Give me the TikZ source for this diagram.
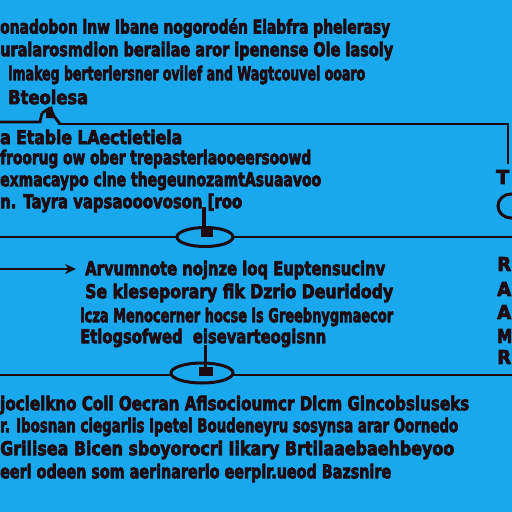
\documentclass[tikz,border=0pt]{standalone}
\usepackage{fontspec}
\setmainfont{DejaVu Sans}
\newfontfamily\heavy{DejaVu Sans Bold}[FakeBold=4]
\usepackage{graphicx}
\usetikzlibrary{arrows.meta}
\definecolor{bg}{RGB}{25,168,238}
\definecolor{ink}{RGB}{28,10,16}
\newcommand{\fitw}[2]{\resizebox{#1}{\height}{#2}}
\tikzset{
  txt/.style={anchor=west, inner sep=0pt, text=ink, font=\fontsize{19}{19}\heavy},
  wire/.style={draw=ink, line width=2.8pt},
  loopc/.style={draw=ink, line width=3pt}
}
\begin{document}
\begin{tikzpicture}[x=1pt,y=-1pt]
\fill[bg] (0,0) rectangle (512,512);
\useasboundingbox (0,0) rectangle (512,512);
% block 1
\node[txt] (a1) at (0,28) {\fitw{390pt}{onadobon lnw Ibane nogorodén Elabfra phelerasy}};
\node[txt] (a2) at (0,51) {\fitw{393pt}{uralarosmdion berailae aror ipenense Ole lasoly}};
\node[txt] (a3) at (8,75) {\fitw{357pt}{lmakeg berterlersner ovilef and Wagtcouvel ooaro}};
\node[txt] (a4) at (8,97) {\fitw{80pt}{Bteolesa}};
% top wire
\coordinate (t0) at (0,122);
\coordinate (t1) at (40,122);
\coordinate (t2) at (58,124);
\coordinate (t3) at (508,124);
\coordinate (t4) at (508,164);
\draw[wire] (t0) -- (t1) -- (42,113);
\draw[wire, line join=round] (42,113) -- (50,108) -- (54,116) -- (60,124);
\fill[ink] (46,110) -- (52,106) -- (55,118) -- (46,118) -- cycle;
\draw[wire] (t2) -- (t3) -- (t4);
% block 2
\node[txt] (b1) at (0,137) {\fitw{182pt}{a Etable LAectietiela}};
\node[txt] (b2) at (0,159) {\fitw{311pt}{froorug ow ober trepasterlaooeersoowd}};
\node[txt] (b3) at (0,181) {\fitw{321pt}{exmacaypo clne thegeunozamtAsuaavoo}};
\node[txt] (b4) at (0,203) {\fitw{242pt}{n. Tayra vapsaooovoson [roo}};
\node[txt] (tr) at (496,177) {T};
\draw[loopc] (511,206) ellipse (13 and 12);
% middle wire 1
\coordinate (m0) at (0,237);
\coordinate (m1) at (177,237);
\coordinate (m2) at (233,237);
\coordinate (m3) at (512,237);
\draw[wire] (m0) -- (m1);
\draw[wire] (m2) -- (m3);
\draw[loopc] (205,237) ellipse (28 and 9.5);
\fill[ink] (201,229) rectangle (213,237);
% arrow
\coordinate (ar0) at (0,269);
\coordinate (ar1) at (76,269);
\draw[wire, -{Stealth[length=11pt,width=10pt]}] (ar0) -- (ar1);
% block 3
\node[txt] (c1) at (85,270) {\fitw{300pt}{Arvumnote nojnze loq Euptensucinv}};
\node[txt] (c2) at (85,293) {\fitw{308pt}{Se kleseporary fik Dzrio Deuridody}};
\node[txt] (c3) at (80,317) {\fitw{313pt}{lcza Menocerner hocse ls Greebnygmaecor}};
\node[txt] (c4) at (80,338) {\fitw{246pt}{Etlogsofwed \ eisevarteogisnn}};
\node[txt] (r1) at (497,264) {\fitw{14pt}{R}};
\node[txt] (r2) at (497,289) {\fitw{14pt}{A}};
\node[txt] (r3) at (497,312) {\fitw{14pt}{A}};
\node[txt] (r4) at (497,336) {\fitw{15pt}{M}};
\node[txt] (r5) at (497,357) {\fitw{14pt}{R}};
% middle wire 2
\coordinate (n0) at (0,375);
\coordinate (n1) at (171,375);
\coordinate (n2) at (233,375);
\coordinate (n3) at (512,375);
\draw[wire] (n0) -- (n1);
\draw[wire] (n2) -- (n3);
\draw[loopc] (202,373) ellipse (31 and 10);
\fill[ink] (203.5,345) rectangle (206.5,370);
\fill[ink] (199,367) rectangle (213,376);
% block 4
\node[txt] (d1) at (0,405) {\fitw{469pt}{joclelkno Coll Oecran Aflsocioumcr Dlcm Gincobsluseks}};
\node[txt] (d2) at (0,427) {\fitw{458pt}{r. Ibosnan ciegarlis Ipetel Boudeneyru sosynsa arar Oornedo}};
\node[txt] (d3) at (0,450) {\fitw{454pt}{Grilisea Bicen sboyorocri Iikary Brtilaaebaehbeyoo}};
\node[txt] (d4) at (0,473) {\fitw{391pt}{eerl odeen som aerinarerlo eerplr.ueod Bazsnire}};
% stem of the first loop, drawn last
\fill[ink] (201.5,207) rectangle (206,233);
\end{tikzpicture}
\end{document}
